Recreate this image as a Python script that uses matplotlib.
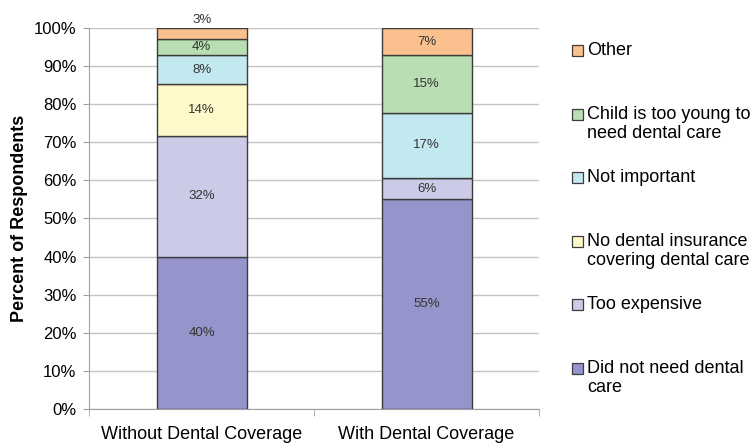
import matplotlib.pyplot as plt
from matplotlib.patches import Rectangle

plt.rcParams['font.family'] = ['Liberation Sans', 'DejaVu Sans']

# Datos (porcentaje de encuestados)
groups = ['Without Dental Coverage', 'With Dental Coverage']
reasons = ['Did not need dental\ncare', 'Too expensive',
           'No dental insurance\ncovering dental care', 'Not important',
           'Child is too young to\nneed dental care', 'Other']
without_cov = [40.0, 31.6, 13.6, 7.7, 4.3, 2.8]
with_cov = [55.0, 5.6, 0.0, 17.1, 15.1, 7.2]
colors = ['#9595CB', '#CBCBE8', '#FFF8C9', '#C2E9EF', '#B9DEB3', '#FAC18F']

fig = plt.figure(figsize=(7.55, 4.44), dpi=100)
ax = fig.add_axes([0.118, 0.079, 0.596, 0.858])

x = [0, 1]
bottoms = [0.0, 0.0]
for k in range(len(reasons)):
    vals = [without_cov[k], with_cov[k]]
    ax.bar(x, vals, width=0.40, bottom=bottoms, color=colors[k],
           edgecolor='#3c3c3c', linewidth=1.0, zorder=3)
    for i in range(2):
        v = vals[i]
        if v <= 0:
            continue
        if v < 3.5:
            # etiqueta encima de la barra si el segmento es muy pequeño
            ax.text(x[i], bottoms[i] + v + 0.6, f'{v:.0f}%', ha='center',
                    va='bottom', fontsize=9.5, color='#333333')
        else:
            ax.text(x[i], bottoms[i] + v / 2, f'{v:.0f}%', ha='center',
                    va='center', fontsize=9.5, color='#333333', zorder=4)
        bottoms[i] += v

ax.set_xlim(-0.5, 1.5)
ax.set_ylim(0, 100)
ax.set_yticks(range(0, 101, 10))
ax.set_yticklabels([f'{t}%' for t in range(0, 101, 10)])
ax.yaxis.grid(True, color='#c4c4c4', linewidth=1.0, zorder=0)
ax.set_xticks(x)
ax.set_xticklabels(groups)
ax.set_xticks([-0.5, 0.5, 1.5], minor=True)
ax.tick_params(axis='x', which='major', length=0, pad=12, labelsize=13)
ax.tick_params(axis='x', which='minor', length=5, color='#a0a0a0')
ax.tick_params(axis='y', length=4, color='#a0a0a0', pad=5, labelsize=12)
for s in ['top', 'right']:
    ax.spines[s].set_visible(False)
for s in ['left', 'bottom']:
    ax.spines[s].set_color('#a0a0a0')
ax.set_ylabel('Percent of Respondents', fontsize=13, fontweight='bold', labelpad=4)

# Leyenda manual (orden inverso, entradas espaciadas como en Excel)
W, H = 755, 444
for j, k in enumerate(reversed(range(len(reasons)))):
    ytop = 42 + j * 63.6
    fig.add_artist(Rectangle((572 / W, 1 - (ytop + 14) / H), 11 / W, 11 / H,
                             transform=fig.transFigure, facecolor=colors[k],
                             edgecolor='#3c3c3c', linewidth=0.9))
    fig.text(587 / W, 1 - ytop / H, reasons[k], ha='left', va='top',
             fontsize=13, linespacing=1.15)

fig.savefig('out.png', dpi=100)
